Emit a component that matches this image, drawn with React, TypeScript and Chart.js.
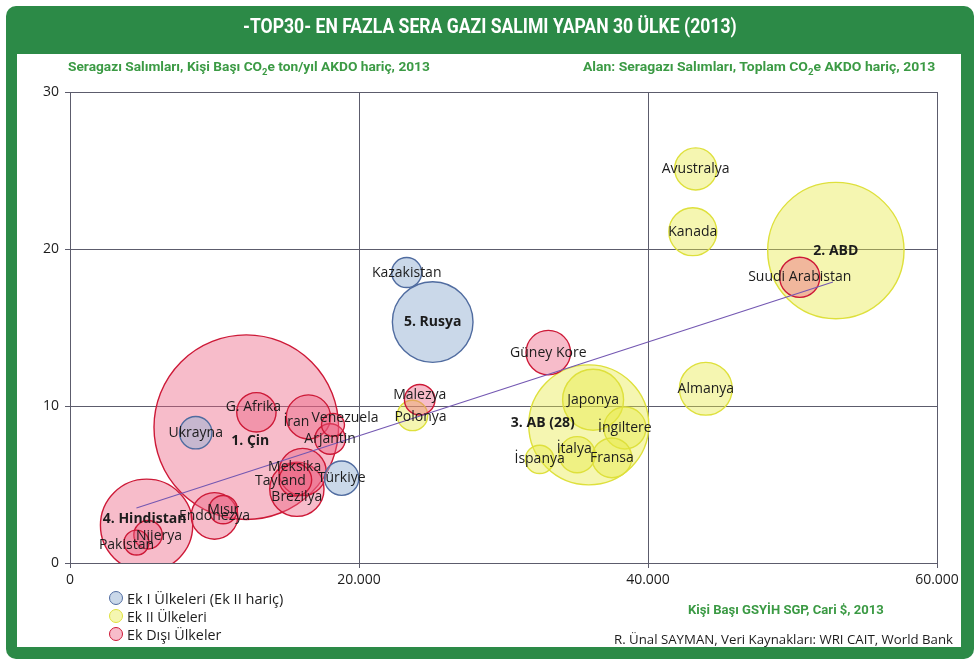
import React, { useEffect, useLayoutEffect, useRef, useState } from "react";
import { Chart, registerables } from "chart.js";

Chart.register(...registerables);

// ---------- DATA ----------
const countries = [
  "1. Çin", "4. Hindistan", "Brezilya", "Meksika", "Endonezya", "Güney Kore", "İran",
  "Suudi Arabistan", "G. Afrika", "Tayland", "Malezya", "Arjantin", "Mısır", "Nijerya",
  "Pakistan", "Venezuela",
  "2. ABD", "3. AB (28)", "Japonya", "Almanya", "Kanada", "Avustralya", "İngiltere",
  "Fransa", "İtalya", "Polonya", "İspanya",
  "5. Rusya", "Türkiye", "Ukrayna", "Kazakistan",
];
// GDP per capita, PPP, current $, 2013
const gdpPerCapita = [
  12200, 5300, 15700, 16100, 10000, 33100, 16500,
  50500, 12900, 15600, 24200, 18000, 10600, 5400,
  4600, 18200,
  53000, 35900, 36200, 44000, 43100, 43300, 38400,
  37500, 35100, 23700, 32500,
  25100, 18800, 8700, 23300,
];
// GHG emissions per capita, t CO2e / year (excl. LULUCF)
const emissionsPerCapita = [
  8.65, 2.4, 4.7, 5.8, 3.0, 13.4, 9.3,
  18.2, 9.6, 5.3, 10.4, 7.9, 3.4, 1.8,
  1.3, 8.8,
  19.9, 8.8, 10.4, 11.1, 21.1, 25.1, 8.6,
  6.7, 6.9, 9.4, 6.6,
  15.35, 5.4, 8.3, 18.5,
];
// Total GHG emissions, Mt CO2e (bubble area)
const totalEmissions = [
  11000, 2750, 950, 720, 700, 640, 630,
  520, 500, 340, 300, 300, 260, 260,
  200, 170,
  6000, 4650, 1200, 900, 740, 570, 570,
  510, 420, 300, 260,
  2100, 380, 340, 290,
];
// group: D = Ek Dışı, II = Ek II, I = Ek I (Ek II hariç)
const groups = [
  "D", "D", "D", "D", "D", "D", "D",
  "D", "D", "D", "D", "D", "D", "D",
  "D", "D",
  "II", "II", "II", "II", "II", "II", "II",
  "II", "II", "II", "II",
  "I", "I", "I", "I",
];
const trendX = [4600, 52800];
const trendY = [3.5, 17.9];

const xTickLabels = ["0", "20.000", "40.000", "60.000"];
const yTickLabels = ["0", "10", "20", "30"];
const legendLabels = ["Ek I Ülkeleri (Ek II hariç)", "Ek II Ülkeleri", "Ek Dışı Ülkeler"];

// ---------- STYLE ----------
const GREEN = "#2c8a47";
const TEXT_GREEN = "#3b9a44";
const LABEL_FONT = '"Open Sans", "DejaVu Sans", sans-serif';
const GRID = "#5c5c6c";

const groupStyle: Record<string, { fill: string; border: string }> = {
  I: { fill: "rgba(150,178,212,0.50)", border: "rgb(80,108,160)" },
  II: { fill: "rgba(232,234,70,0.42)", border: "rgb(222,224,60)" },
  D: { fill: "rgba(236,96,128,0.42)", border: "rgb(205,25,55)" },
};

const labelOffsets: Record<string, [number, number]> = {
  "1. Çin": [4, 14],
  "3. AB (28)": [-46, -2],
  "İran": [-12, 5],
  "Venezuela": [12, -7],
  "Nijerya": [11, 1],
  "Pakistan": [-10, 2],
  "Meksika": [-8, -5],
  "Tayland": [-15, 1],
  "Brezilya": [0, 8],
  "Polonya": [8, 2],
  "Malezya": [0, -5],
  "4. Hindistan": [-2, -6],
  "G. Afrika": [-3, -5],
  "İtalya": [-3, -6],
};

const RADIUS_K = 0.88;

function buildBubbleDataset(groupKey: string, label: string) {
  const idx = countries.map((_, i) => i).filter((i) => groups[i] === groupKey);
  idx.sort((a, b) => totalEmissions[b] - totalEmissions[a]);
  return {
    type: "bubble" as const,
    label,
    names: idx.map((i) => countries[i]),
    data: idx.map((i) => ({
      x: gdpPerCapita[i],
      y: emissionsPerCapita[i],
      r: RADIUS_K * Math.sqrt(totalEmissions[i]),
    })),
    backgroundColor: groupStyle[groupKey].fill,
    borderColor: groupStyle[groupKey].border,
    borderWidth: 1.4,
    hoverRadius: 0,
    clip: 0,
  };
}

const labelPlugin = {
  id: "bubbleLabels",
  afterDatasetsDraw(chart: any) {
    const ctx = chart.ctx;
    ctx.save();
    ctx.textAlign = "center";
    ctx.textBaseline = "middle";
    ctx.fillStyle = "#1c1c1c";
    chart.data.datasets.forEach((ds: any, di: number) => {
      if (!ds.names) return;
      const meta = chart.getDatasetMeta(di);
      meta.data.forEach((el: any, i: number) => {
        const name = ds.names[i];
        const off = labelOffsets[name] || [0, 0];
        const bold = /^\d\./.test(name);
        ctx.font = (bold ? "bold " : "") + "14px " + LABEL_FONT;
        ctx.fillText(name, el.x + off[0], el.y + off[1]);
      });
    });
    ctx.restore();
  },
};

function Fit(props: {
  left: number; top: number; w: number; size: number; weight?: string;
  color?: string; family?: string; children: React.ReactNode;
}) {
  const ref = useRef<HTMLSpanElement>(null);
  const [s, setS] = useState(1);
  useLayoutEffect(() => {
    const measure = () => {
      if (ref.current) {
        const nw = ref.current.offsetWidth;
        if (nw > 0) setS(props.w / nw);
      }
    };
    measure();
    (document as any).fonts?.ready?.then(measure);
  }, [props.w]);
  return (
    <div style={{ position: "absolute", left: props.left, top: props.top, whiteSpace: "nowrap" }}>
      <span
        ref={ref}
        style={{
          display: "inline-block",
          whiteSpace: "nowrap",
          fontSize: props.size,
          lineHeight: props.size + "px",
          fontWeight: (props.weight as any) || "normal",
          color: props.color || "#1c1c1c",
          fontFamily: props.family || LABEL_FONT,
          transform: `scaleX(${s})`,
          transformOrigin: "left center",
        }}
      >
        {props.children}
      </span>
    </div>
  );
}

export default function App() {
  const canvasRef = useRef<HTMLCanvasElement>(null);

  useEffect(() => {
    let chart: Chart | null = null;
    let cancelled = false;
    const make = () => {
      if (cancelled || !canvasRef.current) return;
      chart = new Chart(canvasRef.current, {
        type: "bubble",
        data: {
          datasets: [
            {
              type: "line",
              label: "trend",
              data: trendX.map((x, i) => ({ x, y: trendY[i] })),
              borderColor: "#7458b2",
              borderWidth: 1.2,
              pointRadius: 0,
              fill: false,
            } as any,
            buildBubbleDataset("I", legendLabels[0]),
            buildBubbleDataset("D", legendLabels[2]),
            buildBubbleDataset("II", legendLabels[1]),
          ],
        },
        options: {
          responsive: false,
          animation: false,
          devicePixelRatio: 1,
          layout: { autoPadding: false, padding: { left: 0, top: 92, right: 43, bottom: 0 } },
          plugins: { legend: { display: false }, tooltip: { enabled: false } },
          events: [],
          scales: {
            x: {
              type: "linear",
              min: 0,
              max: 60000,
              afterFit: (s: any) => { s.height = 106; },
              ticks: {
                stepSize: 20000,
                color: "#1c1c1c",
                font: { size: 14, family: LABEL_FONT },
                padding: 4,
                maxRotation: 0,
                callback: (_v: any, i: number) => xTickLabels[i],
              },
              grid: { color: GRID, lineWidth: 1, tickLength: 5 },
              border: { display: true, color: GRID, width: 1 },
            },
            y: {
              type: "linear",
              min: 0,
              max: 30,
              afterFit: (s: any) => { s.width = 70; },
              ticks: {
                stepSize: 10,
                color: "#1c1c1c",
                font: { size: 14, family: LABEL_FONT },
                padding: 6,
                callback: (_v: any, i: number) => yTickLabels[i],
              },
              grid: { color: GRID, lineWidth: 1, tickLength: 5 },
              border: { display: true, color: GRID, width: 1 },
            },
          },
        } as any,
        plugins: [labelPlugin],
      });
    };
    const fonts = (document as any).fonts;
    if (fonts && fonts.load) {
      Promise.all([
        fonts.load('14px "Open Sans"'),
        fonts.load('bold 14px "Open Sans"'),
      ]).then(make, make);
    } else make();
    return () => {
      cancelled = true;
      if (chart) chart.destroy();
    };
  }, []);

  const legendColors = [groupStyle.I, groupStyle.II, groupStyle.D];

  return (
    <div style={{ position: "fixed", left: 0, top: 0, width: 980, height: 669, background: "#fff", overflow: "hidden" }}>
      <div style={{ position: "absolute", left: 6, top: 6, width: 968, height: 653, background: GREEN, borderRadius: 10 }} />
      <div style={{ position: "absolute", left: 17, top: 54, width: 944, height: 593, background: "#fff" }} />
      <canvas ref={canvasRef} width={980} height={669} style={{ position: "absolute", left: 0, top: 0, width: 980, height: 669 }} />
      <Fit left={243} top={16} w={494} size={20} weight="bold" color="#ffffff" family='Roboto, "Open Sans", sans-serif'>
        -TOP30- EN FAZLA SERA GAZI SALIMI YAPAN 30 ÜLKE (2013)
      </Fit>
      <Fit left={68} top={57} w={362} size={13} weight="bold" color={TEXT_GREEN} family='Roboto, "Open Sans", sans-serif'>
        Seragazı Salımları, Kişi Başı CO<sub style={{ fontSize: 9, lineHeight: 0 }}>2</sub>e ton/yıl AKDO hariç, 2013
      </Fit>
      <Fit left={583} top={57} w={352} size={13} weight="bold" color={TEXT_GREEN} family='Roboto, "Open Sans", sans-serif'>
        Alan: Seragazı Salımları, Toplam CO<sub style={{ fontSize: 9, lineHeight: 0 }}>2</sub>e AKDO hariç, 2013
      </Fit>
      <Fit left={688} top={600} w={196} size={13} weight="bold" color={TEXT_GREEN} family='Roboto, "Open Sans", sans-serif'>
        Kişi Başı GSYİH SGP, Cari $, 2013
      </Fit>
      <Fit left={614} top={630} w={339} size={13}>
        R. Ünal SAYMAN, Veri Kaynakları: WRI CAIT, World Bank
      </Fit>
      {legendLabels.map((t, i) => (
        <React.Fragment key={t}>
          <div
            style={{
              position: "absolute",
              left: 109,
              top: 591 + i * 18,
              width: 12,
              height: 12,
              borderRadius: "50%",
              background: legendColors[i].fill,
              border: "1px solid " + legendColors[i].border,
            }}
          />
          <Fit left={127} top={590 + i * 18} w={[156, 80, 94][i]} size={14}>
            {t}
          </Fit>
        </React.Fragment>
      ))}
    </div>
  );
}
